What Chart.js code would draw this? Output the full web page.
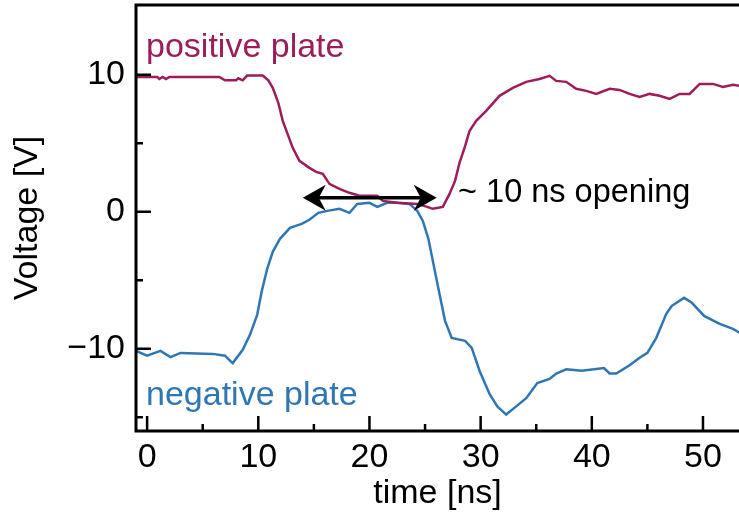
<!DOCTYPE html>
<html>
<head>
<meta charset="utf-8">
<script src="https://cdn.jsdelivr.net/npm/chart.js@4.4.1/dist/chart.umd.min.js"></script>
<style>
  html, body { margin: 0; padding: 0; background: #fff; }
  #wrap { width: 739px; height: 517px; }
</style>
</head>
<body>
<div id="wrap"><canvas id="plateChart" width="739" height="517"></canvas></div>
<script>
const posTime = [-1.0, 0.9, 1.1, 1.4, 1.7, 2.0, 6.5, 7.0, 8.0, 8.2, 8.6, 9.0, 10.4, 10.9, 11.3, 11.8, 12.2, 12.7, 13.1, 13.7, 14.6, 15.2, 15.8, 16.4, 17.3, 18.2, 19.1, 20.7, 21.2, 22.5, 24.3, 25.2, 25.7, 26.6, 27.2, 27.7, 28.1, 28.6, 29.0, 29.6, 30.5, 31.7, 32.9, 34.1, 35.3, 36.2, 36.8, 37.7, 38.6, 39.5, 40.4, 41.6, 42.5, 43.4, 44.3, 45.2, 46.1, 47.0, 47.9, 48.8, 49.7, 50.9, 51.8, 52.7, 53.3];
const posVolt = [9.85, 9.85, 9.7, 9.85, 9.7, 9.85, 9.85, 9.6, 9.6, 9.75, 9.6, 9.95, 9.95, 9.6, 9.05, 7.96, 6.64, 5.55, 4.67, 3.72, 3.21, 2.92, 2.77, 2.04, 1.68, 1.39, 1.17, 1.17, 0.8, 0.66, 0.58, 0.36, 0.22, 0.36, 1.31, 2.26, 3.58, 4.8, 5.9, 6.64, 7.37, 8.47, 9.05, 9.49, 9.7, 9.93, 9.56, 9.49, 8.98, 8.83, 8.61, 8.98, 8.9, 8.61, 8.39, 8.61, 8.47, 8.25, 8.61, 8.61, 9.34, 9.34, 9.12, 9.27, 9.2];
const negTime = [-1.0, 0.0, 1.2, 2.1, 3.0, 5.9, 7.0, 7.5, 7.7, 8.6, 9.25, 9.9, 10.3, 10.8, 11.3, 11.95, 12.85, 13.9, 14.6, 15.4, 16.2, 17.3, 18.2, 18.9, 20.0, 20.7, 21.6, 22.5, 23.6, 24.3, 24.8, 25.3, 25.7, 26.3, 26.8, 27.4, 28.6, 29.2, 29.9, 30.8, 31.5, 32.3, 33.2, 34.1, 35.1, 36.2, 36.8, 37.7, 39.1, 41.1, 41.6, 42.2, 43.4, 44.3, 45.0, 45.8, 46.7, 47.2, 48.3, 49.0, 50.1, 51.5, 52.7, 53.3];
const negVolt = [-10.15, -10.5, -10.15, -10.6, -10.3, -10.37, -10.5, -10.9, -11.04, -10.07, -8.98, -7.52, -5.84, -4.16, -2.92, -1.97, -1.17, -0.88, -0.58, -0.07, 0.07, 0.22, -0.07, 0.58, 0.66, 0.36, 0.66, 0.66, 0.58, 0.07, -0.66, -1.97, -3.58, -5.99, -7.96, -9.2, -9.42, -9.93, -11.6, -13.3, -14.2, -14.8, -14.2, -13.6, -12.5, -12.2, -11.8, -11.5, -11.6, -11.4, -11.8, -11.8, -11.2, -10.65, -10.3, -9.2, -7.45, -6.86, -6.28, -6.64, -7.6, -8.18, -8.54, -8.83];

const xMajor = [0, 10, 20, 30, 40, 50];
const xMinor = [5, 15, 25, 35, 45];
const yMajor = [-10, 0, 10];
const yMinor = [-15, -5, 5];

const openingStart = 14.0, openingEnd = 26.05, openingLevel = 1.02;

const crimson = '#9c1d5a';
const blue = '#2f76b5';
const FONT = '"Liberation Sans", Arial, sans-serif';

const fmt = v => v < 0 ? '\u2212' + Math.abs(v) : String(v);

const framePlugin = {
    id: 'frame',
    afterDatasetsDraw(chart) {
        const { ctx, chartArea: a, scales: { x, y } } = chart;
        ctx.save();
        ctx.strokeStyle = '#000';
        ctx.lineWidth = 3;
        ctx.lineCap = 'butt';
        ctx.beginPath();
        ctx.moveTo(chart.width + 2, a.top);
        ctx.lineTo(a.left, a.top);
        ctx.lineTo(a.left, a.bottom);
        ctx.lineTo(chart.width + 2, a.bottom);
        ctx.stroke();
        // inward ticks
        ctx.lineWidth = 2.5;
        ctx.beginPath();
        xMajor.forEach(v => { const p = x.getPixelForValue(v); ctx.moveTo(p, a.bottom); ctx.lineTo(p, a.bottom - 15); });
        xMinor.forEach(v => { const p = x.getPixelForValue(v); ctx.moveTo(p, a.bottom); ctx.lineTo(p, a.bottom - 7); });
        yMajor.forEach(v => { const p = y.getPixelForValue(v); ctx.moveTo(a.left, p); ctx.lineTo(a.left + 15, p); });
        yMinor.forEach(v => { const p = y.getPixelForValue(v); ctx.moveTo(a.left, p); ctx.lineTo(a.left + 7, p); });
        ctx.stroke();

        // double arrow for the opening window
        const x1 = x.getPixelForValue(openingStart), x2 = x.getPixelForValue(openingEnd);
        const ya = y.getPixelForValue(openingLevel);
        ctx.beginPath();
        ctx.moveTo(x1 + 12, ya); ctx.lineTo(x2 - 12, ya);
        ctx.lineWidth = 3.5; ctx.strokeStyle = '#000'; ctx.stroke();
        const head = (tip, dir) => {
            ctx.beginPath();
            ctx.moveTo(tip, ya);
            ctx.lineTo(tip + dir * 23, ya - 13);
            ctx.lineTo(tip + dir * 16, ya);
            ctx.lineTo(tip + dir * 23, ya + 13);
            ctx.closePath();
            ctx.fillStyle = '#000';
            ctx.fill();
        };
        head(x1, 1);
        head(x2, -1);

        // labels
        ctx.font = '34px ' + FONT;
        ctx.textBaseline = 'alphabetic';
        ctx.textAlign = 'left';
        ctx.fillStyle = crimson;
        ctx.fillText('positive plate', x.getPixelForValue(-0.1), y.getPixelForValue(11.3));
        ctx.fillStyle = blue;
        ctx.fillText('negative plate', x.getPixelForValue(-0.1), y.getPixelForValue(-14.1));
        ctx.font = '32.5px ' + FONT;
        ctx.fillStyle = '#000';
        ctx.textBaseline = 'middle';
        ctx.fillText('~ 10 ns opening', x.getPixelForValue(27.97), y.getPixelForValue(1.39));
        ctx.restore();
    }
};

new Chart(document.getElementById('plateChart'), {
    type: 'line',
    data: {
        datasets: [
            { label: 'positive plate', data: posTime.map((t, i) => ({ x: t, y: posVolt[i] })),
              borderColor: crimson, borderWidth: 2.5, pointRadius: 0, tension: 0, fill: false },
            { label: 'negative plate', data: negTime.map((t, i) => ({ x: t, y: negVolt[i] })),
              borderColor: blue, borderWidth: 2.5, pointRadius: 0, tension: 0, fill: false }
        ]
    },
    options: {
        responsive: false,
        animation: false,
        layout: { padding: { top: 5, right: 0, left: 0, bottom: 0 } },
        plugins: { legend: { display: false }, tooltip: { enabled: false } },
        scales: {
            x: {
                type: 'linear', min: -1.0, max: 53.24,
                afterBuildTicks: s => { s.ticks = xMajor.map(v => ({ value: v })); },
                afterFit: s => { s.height = 86; s.paddingLeft = 0; s.paddingRight = 0; },
                grid: { display: false, drawTicks: false },
                border: { display: false },
                ticks: { color: '#000', padding: 6, maxRotation: 0, autoSkip: false,
                         font: { family: FONT, size: 34 }, callback: fmt },
                title: { display: true, text: 'time [ns]', color: '#000',
                         font: { family: FONT, size: 34 }, padding: { top: 0, bottom: 3 } }
            },
            y: {
                type: 'linear', min: -16.0, max: 15.1,
                afterBuildTicks: s => { s.ticks = yMajor.map(v => ({ value: v })); },
                afterFit: s => { s.width = 136; s.paddingTop = 0; s.paddingBottom = 0; },
                grid: { display: false, drawTicks: false },
                border: { display: false },
                ticks: { color: '#000', padding: 11, autoSkip: false,
                         font: { family: FONT, size: 34 }, callback: fmt },
                title: { display: true, text: 'Voltage [V]', color: '#000',
                         font: { family: FONT, size: 34 }, padding: { top: 7, bottom: 0 } }
            }
        }
    },
    plugins: [framePlugin]
});
</script>
</body>
</html>
